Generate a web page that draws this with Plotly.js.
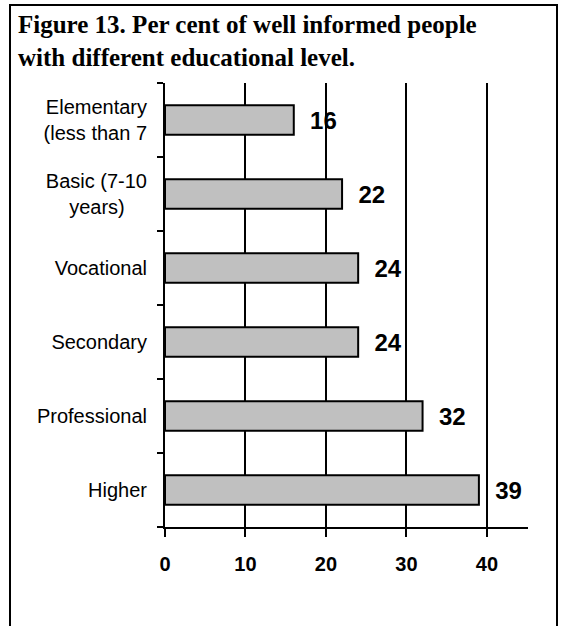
<!DOCTYPE html>
<html>
<head>
<meta charset="utf-8">
<script src="https://cdn.plot.ly/plotly-3.0.1.min.js"></script>
<style>html,body{margin:0;padding:0;background:#fff;}#chart{width:562px;height:626px;}</style>
</head>
<body>
<div id="chart"></div>
<script>
const categories = [
  "Elementary<br>(less than 7",
  "Basic (7-10<br>years)\u00a0\u00a0\u00a0\u00a0",
  "Vocational",
  "Secondary",
  "Professional",
  "Higher"
];
const values = [16, 22, 24, 24, 32, 39];
const xTickValues = [0, 10, 20, 30, 40];
const titleText = "Figure 13. Per cent of well informed people<br>with different educational level.";

const sans = "Liberation Sans, Arial, sans-serif";
const serif = "Liberation Serif, Times New Roman, serif";

const trace = {
  type: "bar",
  orientation: "h",
  x: values,
  y: categories,
  marker: {color: "#c0c0c0", line: {color: "#000", width: 2}},
  texttemplate: "\u00a0\u00a0%{x}",
  textposition: "outside",
  constraintext: "none",
  cliponaxis: false,
  textfont: {family: sans, size: 24, weight: "bold", color: "#000"},
  hoverinfo: "skip"
};

const layout = {
  width: 562,
  height: 626,
  margin: {l: 165, r: 34, t: 83, b: 99},
  paper_bgcolor: "#fff",
  plot_bgcolor: "#fff",
  showlegend: false,
  bargap: 0.6,
  title: {
    text: titleText,
    font: {family: serif, size: 25, weight: "bold", color: "#000"},
    x: 18 / 562, xref: "container", xanchor: "left",
    y: 1 - 33 / 626, yref: "container", yanchor: "top"
  },
  xaxis: {
    range: [0, 45.1],
    tickvals: xTickValues,
    ticktext: xTickValues.map(String),
    showgrid: true, gridcolor: "#000", gridwidth: 2,
    zeroline: false,
    showline: true, linecolor: "#000", linewidth: 2,
    ticks: "outside", ticklen: 8, tickwidth: 2, tickcolor: "#000",
    ticklabelstandoff: 10,
    tickfont: {family: sans, size: 20, weight: "bold", color: "#000"},
    fixedrange: true
  },
  yaxis: {
    type: "category",
    autorange: "reversed",
    showgrid: false,
    zeroline: false,
    showline: true, linecolor: "#000", linewidth: 2,
    ticks: "outside", tickson: "boundaries", ticklen: 6, tickwidth: 2, tickcolor: "#000",
    ticklabelstandoff: 12,
    tickfont: {family: sans, size: 20, color: "#000"},
    fixedrange: true
  },
  shapes: [
    {type: "rect", xref: "paper", yref: "paper",
     x0: (10 - 165) / 363, x1: (557 - 165) / 363,
     y0: (527 - 640) / 444, y1: (527 - 5) / 444,
     line: {color: "#000", width: 2}, fillcolor: "rgba(0,0,0,0)", layer: "below"},
    {type: "line", xref: "paper", yref: "paper",
     x0: -8 / 363, x1: 0, y0: 0, y1: 0,
     line: {color: "#000", width: 2}}
  ]
};

Plotly.newPlot("chart", [trace], layout, {displayModeBar: false, staticPlot: true});
</script>
</body>
</html>
